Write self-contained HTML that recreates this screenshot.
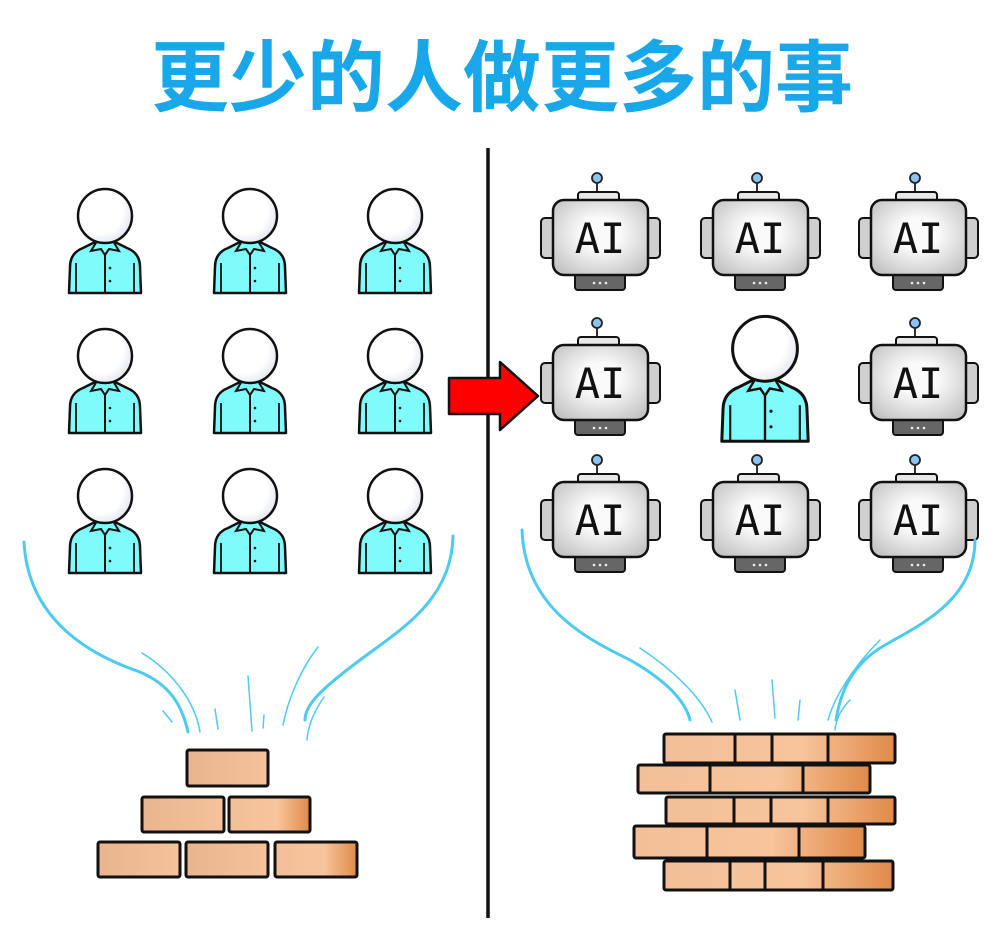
<!DOCTYPE html>
<html><head><meta charset="utf-8"><style>
html,body{margin:0;padding:0;background:#fff;}
svg{display:block}
</style></head><body>
<svg width="1000" height="936" viewBox="0 0 1000 936" xmlns="http://www.w3.org/2000/svg">
<defs>
<radialGradient id="head" cx="0.4" cy="0.4" r="0.7"><stop offset="0.6" stop-color="#fff"/><stop offset="1" stop-color="#dde0ea"/></radialGradient>
<radialGradient id="rb" cx="0.5" cy="0.45" r="0.7"><stop offset="0.3" stop-color="#fafafa"/><stop offset="1" stop-color="#bdbdbd"/></radialGradient>
<linearGradient id="brick" x1="0" x2="1" y1="0" y2="0"><stop offset="0" stop-color="#f3bf98"/><stop offset="0.6" stop-color="#f7c49c"/><stop offset="1" stop-color="#e08a48"/></linearGradient>
<linearGradient id="brickL" x1="0" x2="1" y1="0" y2="0"><stop offset="0" stop-color="#e9b48e"/><stop offset="1" stop-color="#f5c29c"/></linearGradient>
<g id="person">
  <path d="M-36,76 L-35,50 Q-35,36 -22,31 L-8,24 L8,24 L22,31 Q35,36 35,50 L36,76 Z" fill="#80fbfb" stroke="#111" stroke-width="2.5" stroke-linejoin="round"/>
  <path d="M-8,24 L-14,34 L-4,32 L0,38 L4,32 L14,34 L8,24" fill="#80fbfb" stroke="#111" stroke-width="2"/>
  <line x1="0" y1="38" x2="0" y2="76" stroke="#111" stroke-width="2"/>
  <line x1="-29" y1="46" x2="-29" y2="76" stroke="#111" stroke-width="1.8"/>
  <line x1="29" y1="46" x2="29" y2="76" stroke="#111" stroke-width="1.8"/>
  <circle cx="5" cy="51" r="1.3" fill="#111"/><circle cx="5" cy="64" r="1.3" fill="#111"/>
  <circle cx="0" cy="-1" r="27" fill="url(#head)" stroke="#111" stroke-width="2.5"/>
</g>
<g id="robot">
  <line x1="-3" y1="-56" x2="-3" y2="-43" stroke="#333" stroke-width="2"/>
  <circle cx="-3" cy="-60" r="5" fill="#8cc4f0" stroke="#222" stroke-width="1.8"/>
  <rect x="-22" y="-46" width="41" height="12" rx="3" fill="#e8e8e8" stroke="#111" stroke-width="2"/>
  <rect x="-59" y="-20" width="16" height="40" rx="4" fill="#cfcfcf" stroke="#111" stroke-width="2"/>
  <rect x="44" y="-20" width="16" height="40" rx="4" fill="#cfcfcf" stroke="#111" stroke-width="2"/>
  <rect x="-25" y="36" width="50" height="16" rx="3" fill="#666" stroke="#111" stroke-width="2"/>
  <circle cx="-6" cy="45" r="1.3" fill="#eee"/><circle cx="0" cy="45" r="1.3" fill="#eee"/><circle cx="6" cy="45" r="1.3" fill="#eee"/>
  <rect x="-47" y="-38" width="95" height="75" rx="11" fill="url(#rb)" stroke="#111" stroke-width="2.5"/>
</g>
</defs>

<text x="502" y="105" text-anchor="middle" font-family="'Liberation Sans','Noto Sans CJK SC',sans-serif" font-weight="bold" font-size="78" fill="#18a8ea">更少的人做更多的事</text>

<line x1="488" y1="148" x2="488" y2="918" stroke="#111" stroke-width="3.5"/>

<use href="#person" x="105" y="217"/><use href="#person" x="250" y="217"/><use href="#person" x="395" y="217"/>
<use href="#person" x="105" y="357"/><use href="#person" x="250" y="357"/><use href="#person" x="395" y="357"/>
<use href="#person" x="105" y="497"/><use href="#person" x="250" y="497"/><use href="#person" x="395" y="497"/>

<g font-family="'DejaVu Sans Mono','Liberation Mono',monospace" font-size="42" text-anchor="middle" fill="#111">
<use href="#robot" x="600" y="238"/><text x="600" y="253">AI</text>
<use href="#robot" x="760" y="238"/><text x="760" y="253">AI</text>
<use href="#robot" x="918" y="238"/><text x="918" y="253">AI</text>
<use href="#robot" x="600" y="383"/><text x="600" y="398">AI</text>
<use href="#robot" x="918" y="383"/><text x="918" y="398">AI</text>
<use href="#robot" x="600" y="520"/><text x="600" y="535">AI</text>
<use href="#robot" x="760" y="520"/><text x="760" y="535">AI</text>
<use href="#robot" x="918" y="520"/><text x="918" y="535">AI</text>
</g>
<g transform="translate(765,350) scale(1.2)"><use href="#person"/></g>

<path d="M449,378 L500,378 L500,362 L538,396 L500,430 L500,414 L449,414 Z" fill="#f00" stroke="#111" stroke-width="2.5" stroke-linejoin="round"/>

<g fill="none" stroke="#4ccaf0" stroke-linecap="round">
<path d="M24,542 C28,620 90,655 140,672 C170,685 182,705 188,732" stroke-width="3"/>
<path d="M453,536 C452,600 400,630 360,660 C320,690 305,705 305,720" stroke-width="3"/>
<path d="M142,653 C170,670 195,700 200,732" stroke-width="1.5"/>
<path d="M163,711 L172,722" stroke-width="1.5"/>
<path d="M215,709 L218,729" stroke-width="1.5"/>
<path d="M248,676 L252,731" stroke-width="1.5"/>
<path d="M264,715 L263,728" stroke-width="1.5"/>
<path d="M318,647 C300,670 288,700 283,725" stroke-width="1.5"/>
<path d="M324,697 C315,710 308,725 307,740" stroke-width="1.5"/>
<path d="M522,530 C525,610 590,640 630,660 C665,680 685,700 690,720" stroke-width="3"/>
<path d="M975,540 C975,600 920,625 885,645 C850,665 840,695 836,720" stroke-width="3"/>
<path d="M640,648 C670,668 700,695 712,722" stroke-width="1.5"/>
<path d="M735,690 L740,720" stroke-width="1.5"/>
<path d="M772,680 L775,718" stroke-width="1.5"/>
<path d="M800,700 L798,720" stroke-width="1.5"/>
<path d="M880,640 C855,665 835,695 828,720" stroke-width="1.5"/>
<path d="M850,700 C840,710 836,720 835,730" stroke-width="1.5"/>
</g>

<g stroke="#111" stroke-width="3" stroke-linejoin="round">
<rect x="187" y="750" width="81" height="36" rx="2" fill="url(#brickL)"/>
<rect x="142" y="797" width="82" height="35" rx="2" fill="url(#brickL)"/>
<rect x="229" y="797" width="81" height="35" rx="2" fill="url(#brick)"/>
<rect x="98" y="842" width="82" height="35" rx="2" fill="url(#brickL)"/>
<rect x="186" y="842" width="82" height="35" rx="2" fill="url(#brickL)"/>
<rect x="275" y="842" width="82" height="35" rx="2" fill="url(#brick)"/>
</g>

<g stroke="#111" stroke-width="3" stroke-linejoin="round">
<rect x="664" y="734" width="231" height="29" rx="2" fill="url(#brick)"/>
<rect x="638" y="765" width="232" height="28" rx="2" fill="url(#brick)"/>
<rect x="666" y="797" width="229" height="27" rx="2" fill="url(#brick)"/>
<rect x="634" y="826" width="231" height="32" rx="2" fill="url(#brick)"/>
<rect x="664" y="861" width="229" height="29" rx="2" fill="url(#brick)"/>
<path d="M735,734V763 M772,734V763 M828,734V763 M710,765V793 M803,765V793 M734,797V824 M771,797V824 M828,797V824 M707,826V858 M799,826V858 M730,861V890 M765,861V890 M823,861V890"/>
</g>
</svg>
</body></html>
